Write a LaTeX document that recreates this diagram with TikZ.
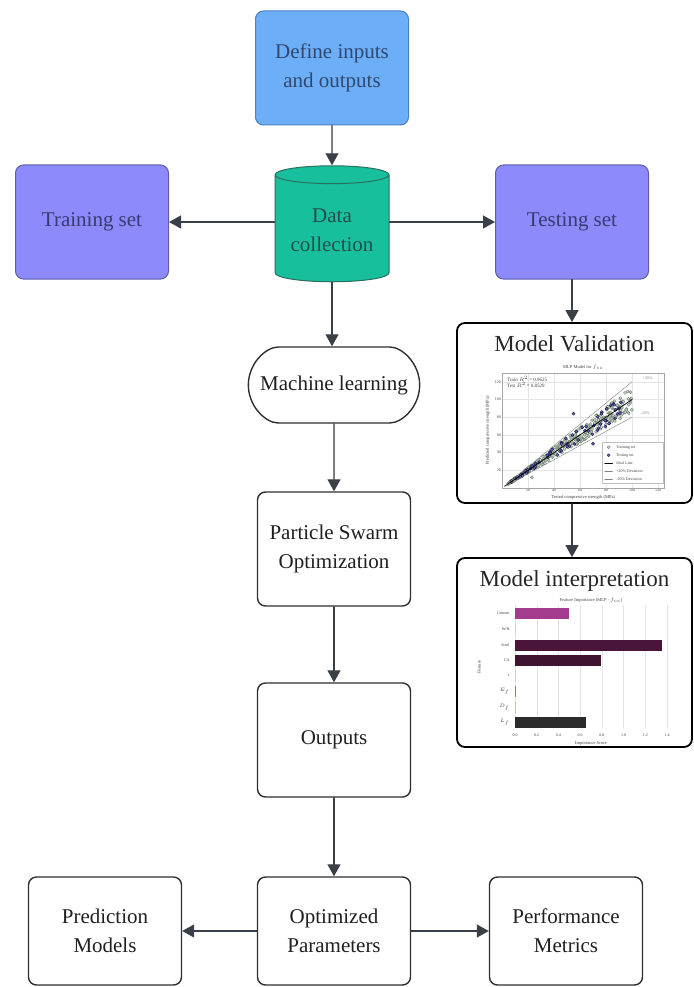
\documentclass[tikz,border=0pt]{standalone}
\usepackage{fontspec}
\setmainfont{Liberation Serif}
\usepackage{tikz}
\usetikzlibrary{arrows.meta,calc,positioning,shapes.geometric,shapes.misc}
\definecolor{definefill}{HTML}{6DAEF8}
\definecolor{defineedge}{HTML}{4A7FC0}
\definecolor{definetext}{HTML}{30486E}
\definecolor{datafill}{HTML}{17BF9C}
\definecolor{dataedge}{HTML}{2A6F60}
\definecolor{datatext}{HTML}{244F4A}
\definecolor{setfill}{HTML}{8D8BFC}
\definecolor{setedge}{HTML}{5E5DA8}
\definecolor{settext}{HTML}{383A70}
\definecolor{arrowc}{HTML}{3B3F48}
\definecolor{boxedge}{HTML}{2E2E33}
\definecolor{barA}{HTML}{A33C8E}
\definecolor{barB}{HTML}{4A1538}
\definecolor{barC}{HTML}{3E1430}
\definecolor{barD}{HTML}{8B8B4A}
\definecolor{barE}{HTML}{C8C88A}
\definecolor{barF}{HTML}{2B2B2B}
\newcommand{\plotpointsize}{1.6pt}
\tikzset{
  flowbox/.style={draw=boxedge,line width=1.4pt,rounded corners=8pt,align=center,
    minimum width=153pt,minimum height=114pt,font=\fontsize{21}{29}\selectfont,text=black!88},
  setbox/.style={fill=setfill,draw=setedge,text=settext,line width=1pt},
  dbcyl/.style={cylinder,shape border rotate=90,aspect=0.2,draw=dataedge,line width=1pt,
    cylinder uses custom fill,cylinder body fill=datafill,cylinder end fill=datafill,
    minimum width=114pt,minimum height=116pt,align=center,text=datatext,
    font=\fontsize{21}{29}\selectfont},
  panel/.style={draw=black,line width=1.8pt,rounded corners=8pt,fill=white,
    minimum width=235pt,minimum height=180pt},
  panel title/.style={font=\fontsize{23}{26}\selectfont,text=black!85},
  flow/.style={-{Triangle[width=13pt,length=12pt]},line width=1.3pt,draw=arrowc,fill=arrowc},
  plot label/.style={font=\fontsize{4}{5}\selectfont,inner sep=1pt,text=black!75},
  plot grid/.style={draw=gray!20,line width=.3pt},
  train dot/.style={fill=gray!40,draw=green!20!black!65,line width=.3pt},
  test dot/.style={fill=blue!20!gray,draw=blue!30!black,line width=.3pt}
}
\newcommand{\PlotDot}[2]{\fill[#2] (#1) circle (\plotpointsize);}

\begin{document}
\begin{tikzpicture}[x=1pt,y=-1pt,line cap=round,line join=round]
  \useasboundingbox (0,0) rectangle (693,987);

  % flow chart nodes
  \node[flowbox,fill=definefill,draw=defineedge,text=definetext,line width=1pt] (define) at (332,68) {Define inputs\\and outputs};
  \node[dbcyl] (data) at (332,230) {Data\\collection};
  \node[flowbox,setbox] (train) at (92,222) {Training set};
  \node[flowbox,setbox] (test) at (572,222) {Testing set};
  \node[flowbox,rounded rectangle,minimum width=178pt,minimum height=76pt] (ml) at (334,385) {Machine learning};
  \node[flowbox] (pso) at (334,549) {Particle Swarm\\Optimization};
  \node[flowbox] (outputs) at (334,740) {Outputs};
  \node[flowbox,minimum height=108pt] (optparams) at (334,931) {Optimized\\Parameters};
  \node[flowbox,minimum height=108pt] (predmodels) at (105,931) {Prediction\\Models};
  \node[flowbox,minimum height=108pt] (perfmetrics) at (566,931) {Performance\\Metrics};
  \node[panel] (valid) at (574.5,413) {};
  \node[panel,minimum height=189pt] (interp) at (574.5,652.5) {};
  \node[panel title,below=10pt of valid.north] (validtitle) {Model Validation};
  \node[panel title,below=10pt of interp.north] (interptitle) {Model interpretation};

  % connectors
  \draw[flow] (define) -- (data);
  \draw[flow] (data.west |- train.east) -- (train.east);
  \draw[flow] (data.east |- test.west) -- (test.west);
  \draw[flow] (data.south) -- (data.south |- ml.north);
  \draw[flow] (ml) -- (pso);
  \draw[flow] (pso) -- (outputs);
  \draw[flow] (outputs) -- (optparams);
  \draw[flow] (optparams) -- (predmodels);
  \draw[flow] (optparams) -- (perfmetrics);
  \draw[flow] (test.south) -- (test.south |- valid.north);
  \draw[flow] (valid.south -| test.south) -- (test.south |- interp.north);

  % scatter plot in the validation panel
  \begin{scope}[shift={(502,488)},x=1.3pt,y=0.885pt]
    \foreach \g in {20,40,...,120} {
      \draw[plot grid] (\g,0) -- (\g,130);
      \draw[plot grid] (0,\g) -- (125,\g);
      \node[plot label,below] at (\g,0) {\g};
      \node[plot label,left] at (0,\g) {\g};
    }
    \draw[gray!70,line width=.3pt] (0,0) rectangle (125,130);
    \begin{scope}
      \clip (0,0) rectangle (125,130);
      \pgfmathsetseed{17}
      \foreach \i in {1,...,300} {
        \pgfmathsetmacro{\tx}{4+96*rnd^1.1}
        \pgfmathsetmacro{\ty}{\tx*(1+0.14*rand)}
        \PlotDot{\tx,\ty}{train dot}
      }
      \foreach \i in {1,...,70} {
        \pgfmathsetmacro{\tx}{4+90*rnd}
        \pgfmathsetmacro{\ty}{\tx*(1+0.15*rand)}
        \PlotDot{\tx,\ty}{test dot}
      }
      \PlotDot{33,28}{train dot}
      \PlotDot{23,12}{train dot}
      \PlotDot{70,50}{test dot}
      \PlotDot{55,84}{test dot}
    \end{scope}
    \draw[black,line width=.7pt] (2,2) -- (100,100);
    \draw[gray,line width=.4pt] (2,2.4) -- (100,120);
    \draw[gray,line width=.4pt] (2,1.6) -- (100,80);
    \node[plot label,text=gray] (plus) at (112,124) {+20\%};
    \node[plot label,text=gray] (minus) at (110,84) {-20\%};
    \node[plot label,anchor=north west,align=left,font=\fontsize{5}{6}\selectfont] (scores) at (3,128)
      {Train $R^2$ = 0.9625\\Test $R^2$ = 0.8529};
    \node[plot label,font=\fontsize{4.5}{5}\selectfont] (vtitle) at (62.5,136) {MLP Model for $f_{cc}$};
    \node[plot label,font=\fontsize{4.5}{5}\selectfont] (vxlabel) at (62.5,-11) {Tested compressive strength (MPa)};
    \node[plot label,rotate=90,font=\fontsize{4.5}{5}\selectfont] (vylabel) at (-11,65) {Predicted compressive strength (MPa)};
    % legend
    \draw[gray!50,fill=white,line width=.3pt] (77,5) rectangle (124,52);
    \PlotDot{82,46}{train dot}
    \PlotDot{82,37}{test dot}
    \draw[black,line width=.6pt] (79,28) -- (85,28);
    \draw[gray,line width=.4pt] (79,19) -- (85,19);
    \draw[gray,line width=.4pt] (79,10) -- (85,10);
    \foreach \ly/\lt in {46/Training set,37/Testing set,28/Ideal Line,19/+20\% Deviation,10/-20\% Deviation}
      {\node[plot label,anchor=west] at (87,\ly) {\lt};}
  \end{scope}

  % bar chart in the interpretation panel
  \begin{scope}[shift={(515,0)},x=108.6pt]
    \foreach \v in {0.0,0.2,0.4,0.6,0.8,1.0,1.2,1.4} {
      \draw[plot grid] (\v,605) -- (\v,728);
      \node[plot label] at (\v,735) {\v};
    }
    \foreach \yy/\val/\col/\lbl in {613/0.50/barA/Cement,629/0/barA/{W/B},645/1.35/barB/Steel,660/0.79/barC/CA,
        676/0/barC/r,691/0.012/barD/$E_f$,707/0.004/barE/$D_f$,722/0.655/barF/$L_f$} {
      \fill[\col] (0,\yy-5.5) rectangle (\val,\yy+5.5);
      \node[plot label,anchor=east] at (-0.04,\yy) {\lbl};
    }
    \node[plot label,font=\fontsize{4.5}{5}\selectfont] (ititle) at (0.7,600) {Feature Importance (MLP - $f_{cc}$)};
    \node[plot label,font=\fontsize{4.5}{5}\selectfont] (ixlabel) at (0.7,743) {Importance Score};
    \node[plot label,rotate=90,font=\fontsize{4.5}{5}\selectfont] (iylabel) at (-0.33,667) {Feature};
  \end{scope}
\end{tikzpicture}
\end{document}
